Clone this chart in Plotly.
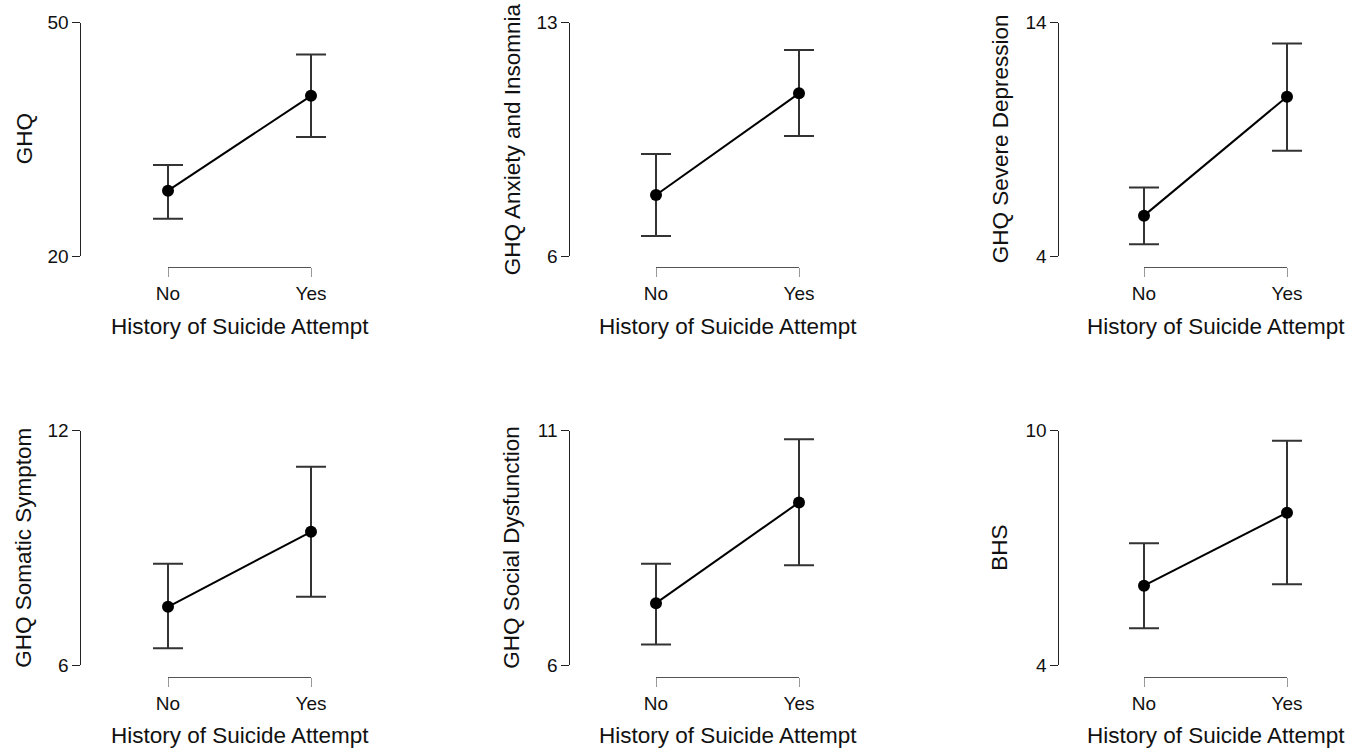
import plotly.graph_objects as go

# ---- data ----
groups = ["No", "Yes"]
titles = ["GHQ", "GHQ Anxiety and Insomnia", "GHQ Severe Depression",
          "GHQ Somatic Symptom", "GHQ Social Dysfunction", "BHS"]
y_min = [20, 6, 4, 6, 6, 4]
y_max = [50, 13, 14, 12, 11, 10]
mean_no = [28.4, 7.83, 5.73, 7.49, 7.32, 6.03]
mean_yes = [40.6, 10.88, 10.83, 9.41, 9.47, 7.90]
low_no = [24.8, 6.60, 4.50, 6.43, 6.44, 4.94]
high_no = [31.7, 9.06, 6.94, 8.59, 8.16, 7.12]
low_yes = [35.3, 9.60, 8.51, 7.75, 8.13, 6.07]
high_yes = [45.9, 12.18, 13.11, 11.08, 10.82, 9.74]
x_title = "History of Suicide Attempt"

W, H = 1364, 749
FONT = "Liberation Sans, Arial, sans-serif"

# layout (pixels)
col_axis = [80, 569, 1058]
col_no = [168, 656, 1144]
col_yes = [311, 799, 1287]
row_top = [22.7, 430.7]
row_bot = [256, 665]
row_xline = [267.3, 676.7]
row_xtitle = [326.5, 735]
ytitle_x = [24, 512, 1000]
PAD = 40  # px of room around the points so caps are not clipped

fig = go.Figure()
annotations = []
layout = {}
for i in range(6):
    r, c = divmod(i, 3)
    k = "" if i == 0 else str(i + 1)
    kb = str(i + 7)
    xa, ya, xb = "x" + k, "y" + k, "x" + kb
    span = col_yes[c] - col_no[c]
    # invisible trace that carries the bracket-style category axis
    fig.add_trace(go.Scatter(
        x=[0, 1], y=[mean_no[i], mean_yes[i]], xaxis=xb, yaxis=ya,
        mode="markers", marker=dict(opacity=0), showlegend=False,
        hoverinfo="skip"))
    fig.add_trace(go.Scatter(
        x=[0, 1], y=[mean_no[i], mean_yes[i]],
        xaxis=xa, yaxis=ya, mode="lines+markers",
        line=dict(color="#000000", width=2),
        marker=dict(color="#000000", size=12),
        error_y=dict(type="data", symmetric=False,
                     array=[high_no[i] - mean_no[i], high_yes[i] - mean_yes[i]],
                     arrayminus=[mean_no[i] - low_no[i], mean_yes[i] - low_yes[i]],
                     color="#333333", thickness=2, width=15),
        cliponaxis=False, showlegend=False, hoverinfo="skip"))
    layout["xaxis" + k] = dict(
        domain=[(col_no[c] - PAD) / W, (col_yes[c] + PAD) / W],
        range=[-PAD / span, 1 + PAD / span], anchor=ya, visible=False,
        automargin=False, fixedrange=True)
    layout["xaxis" + kb] = dict(
        domain=[col_no[c] / W, col_yes[c] / W], range=[0, 1],
        anchor="free", position=1 - row_xline[r] / H,
        tickvals=[0, 1], ticktext=groups, ticks="outside", ticklen=9,
        tickcolor="#999999", tickwidth=1.3, showline=True, linecolor="#555555",
        linewidth=1.3, showgrid=False, zeroline=False, automargin=False,
        tickfont=dict(family=FONT, size=19, color="#111111"), fixedrange=True)
    layout["yaxis" + k] = dict(
        domain=[1 - row_bot[r] / H, 1 - row_top[r] / H],
        range=[y_min[i], y_max[i]], anchor="free", position=col_axis[c] / W,
        tickvals=[y_min[i], y_max[i]], ticks="outside", ticklen=7.5,
        tickcolor="#222222", tickwidth=1.3, showline=True, linecolor="#222222",
        linewidth=1.3, showgrid=False, zeroline=False, automargin=False,
        tickfont=dict(family=FONT, size=19, color="#111111"), fixedrange=True)
    annotations.append(dict(
        text=titles[i], x=ytitle_x[c] / W,
        y=1 - (row_top[r] + row_bot[r]) / 2 / H,
        xref="paper", yref="paper", textangle=-90, showarrow=False,
        xanchor="center", yanchor="middle",
        font=dict(family=FONT, size=22.5, color="#111111")))
    annotations.append(dict(
        text=x_title, x=(col_no[c] + col_yes[c]) / 2 / W,
        y=1 - row_xtitle[r] / H, xref="paper", yref="paper", showarrow=False,
        xanchor="center", yanchor="middle",
        font=dict(family=FONT, size=22.5, color="#111111")))

fig.update_layout(width=W, height=H, margin=dict(l=0, r=0, t=0, b=0),
                  paper_bgcolor="white", plot_bgcolor="rgba(0,0,0,0)",
                  annotations=annotations, **layout)
fig.write_html("out.html")
